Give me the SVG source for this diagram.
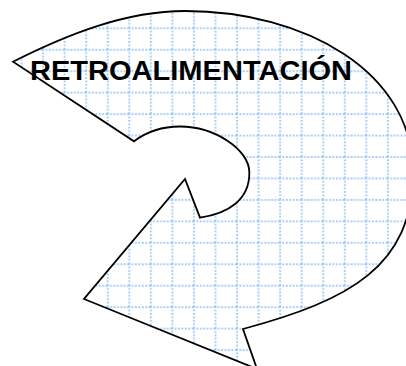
<svg xmlns="http://www.w3.org/2000/svg" width="406" height="366" viewBox="0 0 406 366">
  <style>
    .outline { stroke: #000; stroke-width: 1.8; stroke-linejoin: miter; }
    .grid { stroke: #9ecbf8; stroke-width: 2; stroke-dasharray: 1.8 1.6; fill: none; }
    .label { font-family: "Liberation Sans", Arial, sans-serif; font-weight: bold; font-size: 27px; fill: #000; }
  </style>
  <defs>
    <pattern id="gridFill" patternUnits="userSpaceOnUse" x="-1" y="5.9" width="21.55" height="21.45">
      <rect x="0" y="0" width="21.55" height="21.45" fill="#fff"/>
      <line class="grid" x1="1" y1="0" x2="1" y2="21.45"/>
      <line class="grid" x1="0" y1="1" x2="21.55" y2="1"/>
    </pattern>
  </defs>
  <rect x="0" y="0" width="406" height="366" fill="#fff"/>
  <g id="arrow">
    <path class="outline" fill="url(#gridFill)" d="M13 61.7 C66 35 125 11 185 11 C305 11 413 72 413 172 C413 267 349 300.4 243 329 L257 369 L84 299 L185 179 L200 217.7 C228 213.5 250 200 249.3 172 C249.3 150 215 126.5 180 126.5 C160 126.5 145 133 134 141.3 Z"/>
  </g>
  <g id="label">
    <text class="label" x="30" y="80" textLength="322" lengthAdjust="spacingAndGlyphs">RETROALIMENTACIÓN</text>
  </g>
</svg>
